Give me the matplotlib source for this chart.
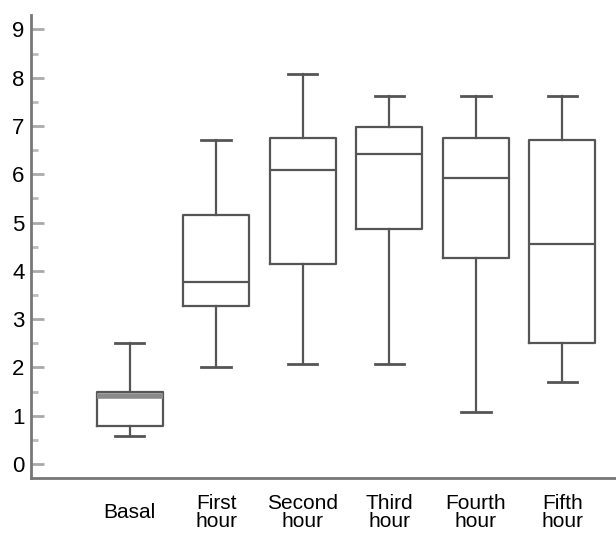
import matplotlib
matplotlib.use('Agg')
import matplotlib.pyplot as plt
from matplotlib.ticker import MultipleLocator

plt.rcParams['font.family'] = ['Liberation Sans', 'DejaVu Sans']

# box statistics
groups = ['Basal', 'First\nhour', 'Second\nhour', 'Third\nhour', 'Fourth\nhour', 'Fifth\nhour']
whisker_low = [0.57, 2.01, 2.07, 2.07, 1.07, 1.70]
q1 = [0.79, 3.27, 4.15, 4.86, 4.27, 2.50]
median = [1.40, 3.77, 6.08, 6.42, 5.93, 4.55]
q3 = [1.50, 5.15, 6.75, 6.97, 6.75, 6.71]
whisker_high = [2.50, 6.70, 8.08, 7.62, 7.62, 7.62]

stats = []
for i in range(len(groups)):
    stats.append({'label': groups[i], 'whislo': whisker_low[i], 'q1': q1[i],
                  'med': median[i], 'q3': q3[i], 'whishi': whisker_high[i],
                  'fliers': []})

fig = plt.figure(figsize=(6.16, 5.34), dpi=100)
ax = fig.add_axes([0.051, 0.105, 0.949, 0.867])

line_col = '#555555'
bp = ax.bxp(stats, positions=range(1, 7), widths=0.76, showfliers=False,
            boxprops=dict(color=line_col, linewidth=1.6),
            medianprops=dict(color=line_col, linewidth=1.6),
            whiskerprops=dict(color=line_col, linewidth=1.6),
            capprops=dict(color=line_col, linewidth=2.0),
            capwidths=0.34)

# basal median is drawn as a thick grey band
bp['medians'][0].set_linewidth(4)
bp['medians'][0].set_color('#8a8a8a')

ax.set_xlim(-0.135, 6.62)
ax.set_ylim(-0.29, 9.3)

ax.yaxis.set_major_locator(MultipleLocator(1))
ax.yaxis.set_minor_locator(MultipleLocator(0.5))
ax.tick_params(axis='y', which='major', direction='in', length=9, width=2,
               color='#aaaaaa', labelsize=16, pad=5)
ax.tick_params(axis='y', which='minor', direction='in', length=5, width=2,
               color='#bbbbbb')
ax.tick_params(axis='x', length=0, labelsize=15, pad=25)
for lab in ax.get_xticklabels():
    lab.set_va('center')
    lab.set_linespacing(0.95)

for side in ['top', 'right']:
    ax.spines[side].set_visible(False)
for side in ['left', 'bottom']:
    ax.spines[side].set_color('#777777')
    ax.spines[side].set_linewidth(2)

fig.savefig('out.png', dpi=100)
